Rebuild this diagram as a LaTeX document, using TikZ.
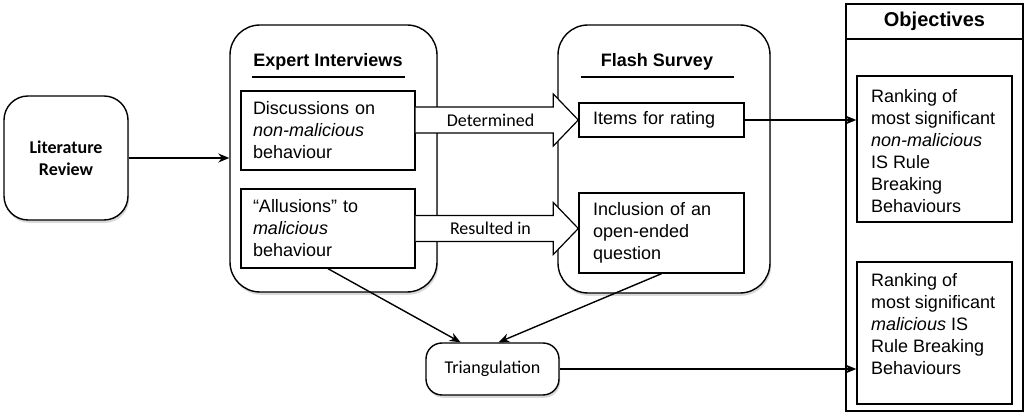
\documentclass[tikz,border=0pt]{standalone}
\usepackage{fontspec}
\setmainfont{Liberation Sans}
\newfontfamily\calibfont{Carlito}
\usetikzlibrary{arrows.meta,positioning,calc,shadows}

\begin{document}
\begin{tikzpicture}[x=0.5pt,y=-0.5pt,->,>={Stealth[length=5.5pt,width=4.5pt]},line width=0.7pt,
    font=\fontsize{9}{11}\selectfont]
  \tikzstyle{shadowed}=[drop shadow={shadow xshift=0.6pt,shadow yshift=-1.4pt,opacity=0.3}]
  \tikzstyle{stage}=[draw,fill=white,rounded corners=15pt,shadowed]
  \tikzstyle{itembox}=[draw,fill=white,align=left,inner xsep=6pt]
  \tikzstyle{goalbox}=[draw,fill=white,minimum width=77.5pt]
  \tikzstyle{goaltext}=[inner sep=0pt,align=left]
  \tikzstyle{heading}=[font=\fontsize{9}{11}\selectfont\bfseries]
  \tikzstyle{flowlabel}=[font=\calibfont\fontsize{9}{11}\selectfont]
  \tikzstyle{fatarrow}=[-,draw,fill=white,line width=0.6pt]

  \useasboundingbox (0,0) rectangle (1024,416);

  % stages
  \node[stage,rounded corners=12pt,minimum width=62pt,minimum height=62pt,align=center,
        font=\calibfont\fontsize{9}{11}\selectfont\bfseries] (lit) at (66,158) {Literature\\Review};
  \node[stage,minimum width=103.5pt,minimum height=133.5pt] (expert) at (333.5,158.5) {};
  \node[stage,minimum width=106pt,minimum height=134pt]     (survey) at (664,159) {};
  \node[draw,fill=white,minimum width=88.5pt,minimum height=203.5pt] (obj) at (934.5,207.5) {};
  \node[draw,minimum width=88.5pt,minimum height=17.5pt,
        font=\fontsize{10}{12}\selectfont\bfseries] (objtitle) at (934.5,21.5) {Objectives};

  \node[heading] (expertT) at (328,62) {Expert Interviews};
  \node[heading] (surveyT) at (657,62) {Flash Survey};
  \draw[-] (expertT.center) ++(-76.5,15) -- ++(153,0);
  \draw[-] (surveyT.center) ++(-76.5,15) -- ++(153,0);

  % inner boxes
  \node[itembox,text width=75pt,minimum height=39.5pt] (discuss) at (328,130.5)
       {Discussions on\\\textit{non-malicious}\\behaviour};
  \node[itembox,text width=75pt,minimum height=39.5pt] (allude) at (328,228.5)
       {“Allusions” to\\\textit{malicious}\\behaviour};
  \node[itembox,inner xsep=7pt,text width=68.5pt,minimum height=17pt] (rate) at (661.5,120)
       {Items for rating};
  \node[itembox,inner xsep=7pt,text width=68.5pt,minimum height=40pt] (openq) at (661.5,233)
       {Inclusion of an\\open-ended\\question};

  \node[goalbox,minimum height=73pt] (rankA) at (934.5,149) {};
  \node[goaltext,below right=6.5pt and 7pt of rankA.north west] (rankAtext)
       {Ranking of\\most significant\\\textit{non-malicious}\\IS Rule\\Breaking\\Behaviours};
  \node[goalbox,minimum height=71pt] (rankB) at (934.5,333) {};
  \node[goaltext,below right=5.5pt and 7pt of rankB.north west] (rankBtext)
       {Ranking of\\most significant\\\textit{malicious} IS\\Rule Breaking\\Behaviours};

  \node[stage,rounded corners=8pt,minimum width=66.5pt,minimum height=26pt,flowlabel] (tri) at (492.5,369)
       {Triangulation};

  % block arrows
  \coordinate (detTail) at (discuss.east |- rate.west);
  \coordinate (detTip)  at (rate.west);
  \draw[fatarrow] let \p1=(detTail), \p2=(detTip) in
    (\x1,\y1+6.5pt) -- (\x2-12.5pt,\y1+6.5pt) -- (\x2-12.5pt,\y1+13pt) -- (\x2,\y2)
    -- (\x2-12.5pt,\y1-13pt) -- (\x2-12.5pt,\y1-6.5pt) -- (\x1,\y1-6.5pt);
  \node[flowlabel] at ($(detTail)!0.46!(detTip)$) {Determined};

  \coordinate (resTail) at (allude.east);
  \coordinate (resTip)  at (openq.west |- allude.east);
  \draw[fatarrow] let \p1=(resTail), \p2=(resTip) in
    (\x1,\y1+6.5pt) -- (\x2-12.5pt,\y1+6.5pt) -- (\x2-12.5pt,\y1+13pt) -- (\x2,\y2)
    -- (\x2-12.5pt,\y1-13pt) -- (\x2-12.5pt,\y1-6.5pt) -- (\x1,\y1-6.5pt);
  \node[flowlabel] at ($(resTail)!0.46!(resTip)$) {Resulted in};

  % connectors
  \draw (lit.east) -- (lit.east -| expert.west);
  \draw (rate.east) -- (rate.east -| rankA.west);
  \draw (tri.east) -- (tri.east -| rankB.west);
  \draw (allude.south) -- ([xshift=-16pt]tri.north);
  \draw (openq.south) -- ([xshift=3pt]tri.north);
\end{tikzpicture}
\end{document}
